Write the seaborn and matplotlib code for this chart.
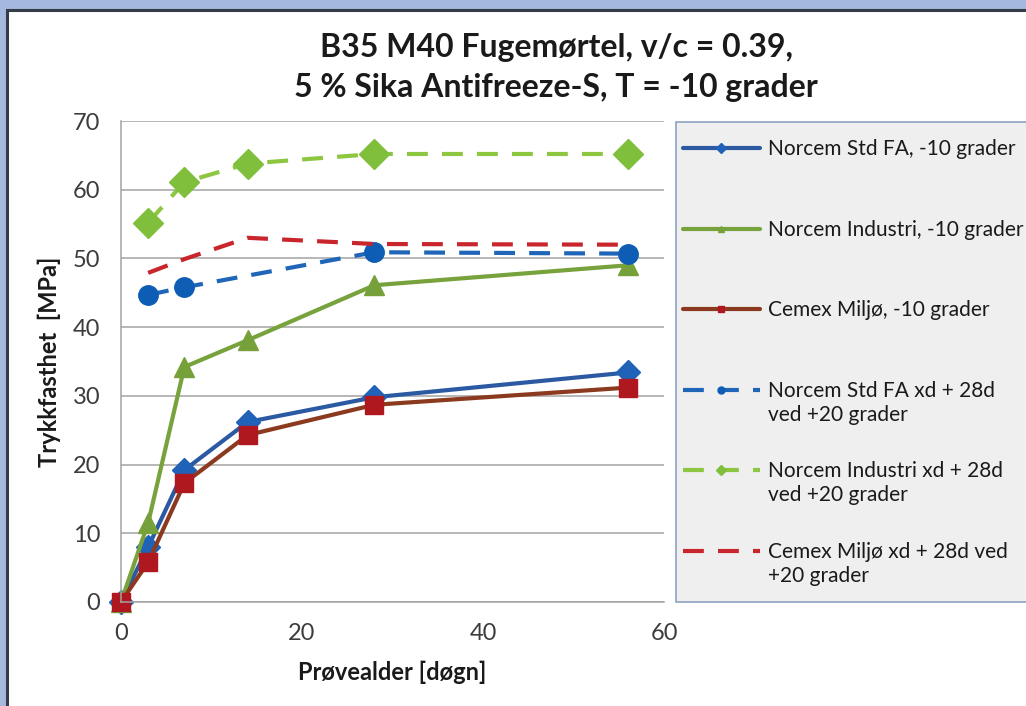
import seaborn as sns
import matplotlib.pyplot as plt
from matplotlib.patches import Rectangle
from matplotlib.lines import Line2D

# data (days, MPa)
days_cold = [0, 3, 7, 14, 28, 56]
std_fa_cold = [0, 8.0, 19.2, 26.2, 29.8, 33.4]
industri_cold = [0, 11.5, 34.2, 38.1, 46.1, 49.0]
miljo_cold = [0, 5.8, 17.3, 24.3, 28.7, 31.2]

days_std_fa_warm = [3, 7, 28, 56]
std_fa_warm = [44.7, 45.8, 50.9, 50.7]
days_warm = [3, 7, 14, 28, 56]
industri_warm = [55.2, 61.1, 63.8, 65.2, 65.2]
miljo_warm = [47.9, 49.9, 53.0, 52.1, 52.0]

labels = [
    "Norcem Std FA, -10 grader",
    "Norcem Industri, -10 grader",
    "Cemex Miljø, -10 grader",
    "Norcem Std FA xd + 28d\nved +20 grader",
    "Norcem Industri xd + 28d\nved +20 grader",
    "Cemex Miljø xd + 28d ved\n+20 grader",
]

sns.set_style("white")
plt.rcParams['font.family'] = ['Lato', 'DejaVu Sans']

fig = plt.figure(figsize=(10.26, 7.06), dpi=100)
fig.patch.set_facecolor('#a5b8dd')
W, H = 1026, 706
# white panel with dark frame
fig.patches.append(Rectangle((7 / W, -0.05), 1.1, 1 - 10 / H + 0.05,
                             transform=fig.transFigure, facecolor='white',
                             edgecolor='#343c48', linewidth=2.2, zorder=-3))
# legend box
fig.patches.append(Rectangle((676 / W, 1 - 602 / H), 0.5, (602 - 122) / H,
                             transform=fig.transFigure, facecolor='#efefef',
                             edgecolor='#8ea2c2', linewidth=1.2, zorder=-2))

ax = fig.add_axes([121 / W, 1 - 602 / H, (664 - 121) / W, (602 - 121) / H])
ax.set_facecolor('none')

lw = 3.0
dash = (0, (5, 3.4))

series = [
    (days_cold, std_fa_cold, '#2b5aa3', '#1f62b8', 'D', '-', 12),
    (days_cold, industri_cold, '#77a23c', '#76a13a', '^', '-', 15),
    (days_cold, miljo_cold, '#8c3a1f', '#b0181f', 's', '-', 13),
    (days_std_fa_warm, std_fa_warm, '#2066b8', '#0d5db4', 'o', dash, 14),
    (days_warm, industri_warm, '#8dc641', '#7fbf3c', 'D', dash, 15),
    (days_warm, miljo_warm, '#c8252c', '#c8252c', '', dash, 0),
]

for (xs, ys, lc, mc, mk, ls, ms), lab in zip(series, labels):
    sns.lineplot(x=xs, y=ys, ax=ax, color=lc, linewidth=lw, linestyle=ls,
                 marker=mk if mk else None, markersize=ms,
                 markerfacecolor=mc, markeredgecolor=mc, markeredgewidth=1,
                 label=lab, legend=False, clip_on=False)

ax.set_xlim(0, 60)
ax.set_ylim(0, 70)
ax.set_xticks([0, 20, 40, 60])
ax.set_yticks(range(0, 71, 10))
ax.grid(axis='y', color='#a3a3a3', linewidth=1.1)
ax.set_axisbelow(True)
for s in ['top', 'right']:
    ax.spines[s].set_visible(False)
for s in ['left', 'bottom']:
    ax.spines[s].set_color('#a3a3a3')
    ax.spines[s].set_linewidth(1.1)
ax.tick_params(axis='both', direction='out', length=6, width=1.1,
               color='#a3a3a3', labelsize=17, labelcolor='#3c3c3c')
ax.tick_params(axis='x', pad=9)
ax.tick_params(axis='y', pad=9)
ax.set_xlabel("Prøvealder [døgn]", fontsize=17, fontweight='bold',
              color='#1a1a1a', labelpad=12)
ax.set_ylabel("Trykkfasthet  [MPa]", fontsize=17, fontweight='bold',
              color='#1a1a1a', labelpad=8)

fig.text(556 / W, 1 - 47 / H, "B35 M40 Fugemørtel, v/c = 0.39,", ha='center',
         va='center', fontsize=23, fontweight='bold', color='#1a1a1a')
fig.text(556 / W, 1 - 87 / H, "5 % Sika Antifreeze-S, T = -10 grader", ha='center',
         va='center', fontsize=23, fontweight='bold', color='#1a1a1a')

# legend entries laid out like the original (first text line aligned with handle)
for i, ((xs, ys, lc, mc, mk, ls, ms), lab) in enumerate(zip(series, labels)):
    yc = 1 - (148 + 80.5 * i) / H
    fig.add_artist(Line2D([683 / W, 760 / W], [yc, yc], color=lc, linewidth=lw,
                          linestyle=ls, transform=fig.transFigure))
    if mk:
        fig.add_artist(Line2D([721 / W], [yc], marker=mk, markersize=5,
                              color=mc, transform=fig.transFigure))
    fig.text(768 / W, yc + 9 / H, lab, ha='left', va='top', fontsize=15,
             color='#1a1a1a', linespacing=1.25)

fig.savefig('out.png', dpi=100, facecolor=fig.get_facecolor())
